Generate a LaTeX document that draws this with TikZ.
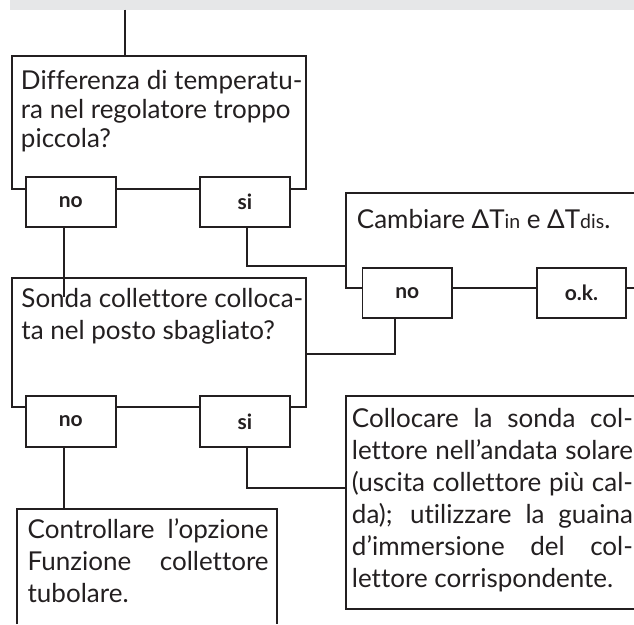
\documentclass[tikz,border=0pt]{standalone}
\usepackage{fontspec}
\setmainfont{Lato}[Ligatures=NoCommon]
\usetikzlibrary{positioning,calc}
\definecolor{ink}{HTML}{231F20}
\definecolor{band}{HTML}{E6E7E8}
\newcommand\jline[2]{\hbox to #1{#2}}
\newcommand\lowtxt[1]{{\fontsize{19.5}{20}\selectfont #1}}

\begin{document}
\begin{tikzpicture}[x=1pt, y=-1pt, color=ink, line width=1.9pt,
        qbox/.style={rectangle, draw, inner sep=0pt, outer sep=0pt, anchor=north west},
        lbl/.style={rectangle, draw, fill=white, inner sep=0pt, outer sep=0pt,
                    minimum width=89.7pt, minimum height=50.5pt,
                    font=\fontsize{21}{24}\selectfont\bfseries},
        txt/.style={anchor=north west, inner sep=0pt, align=left,
                    font=\fontsize{26}{32}\selectfont}
      ]
      \useasboundingbox (0,0) rectangle (634,624);
      \fill[band] (10,0) rectangle (634,9.5);

      % fixed points
      \coordinate (feed) at (125,9.5);
      \coordinate (stemL) at (64.3,0);
      \coordinate (stemR) at (247,0);
      \coordinate (stemM) at (395,0);
      \coordinate (cambioNE) at (634,192.7);
      \coordinate (cambioNW) at (345.7,192.7);
      \coordinate (cambioSW) at (345.7,288.3);
      \coordinate (cambioSE) at (634,288.3);
      \coordinate (collocNE) at (634,395.7);
      \coordinate (collocNW) at (345.7,395.7);
      \coordinate (collocSW) at (345.7,609.3);
      \coordinate (collocSE) at (634,609.3);
      \coordinate (ctrlSW) at (16.7,624);
      \coordinate (ctrlNW) at (16.7,509);
      \coordinate (ctrlNE) at (277.3,509);
      \coordinate (ctrlSE) at (277.3,624);

      % question boxes
      \node[qbox, minimum width=294pt, minimum height=133pt] (diff) at (11.7,56) {};
      \node[qbox, minimum width=294pt, minimum height=128.7pt] (sonda) at (11.7,278.3) {};
      \draw (cambioNE) -- (cambioNW) -- (cambioSW) -- (cambioSE);
      \draw (collocNE) -- (collocNW) -- (collocSW) -- (collocSE);
      \draw (ctrlSW) -- (ctrlNW) -- (ctrlNE) -- (ctrlSE);

      % texts
      \node[txt, font=\fontsize{26}{29}\selectfont] (difftxt) at (20,68.7)
        {\strut Differenza di temperatu-\\ra nel regolatore troppo\\piccola?};
      \node[txt] (sondatxt) at (20.5,284.3)
        {\strut Sonda collettore colloca-\\ta nel posto sbagliato?};
      \node[anchor=base west, inner sep=0pt, font=\fontsize{26}{32}\selectfont] (cambiotxt)
        at (356,228.3) {Cambiare ΔT\lowtxt{in} e ΔT\lowtxt{dis}.};
      \node[txt] (ctrltxt) at (26.7,515.6)
        {\strut\jline{241pt}{Controllare l’opzione}\\
         \jline{241pt}{Funzione collettore}\\tubolare.};
      \node[txt] (colloctxt) at (351,404.6)
        {\strut\jline{281pt}{Collocare la sonda col-}\\
         \jline{281pt}{lettore nell’andata solare}\\
         \jline{281pt}{(uscita collettore più cal-}\\
         \jline{281pt}{da); utilizzare la guaina}\\
         \jline{281pt}{d’immersione del col-}\\
         lettore corrispondente.};

      % connectors
      \draw (feed) -- (feed |- diff.north);
      \draw (stemL |- 0,227) -- ($(sonda.north -| stemL)+(0,19)$);
      \draw (stemR |- 0,227) |- ($(cambioNW)+(0,73)$);
      \draw (stemM |- 0,318) |- ($(sonda.north east)+(0,76)$);
      \draw (stemL |- 0,446) -- (stemL |- ctrlNW);
      \draw (stemR |- 0,447) |- ($(collocNW)+(0,92)$);

      % answer boxes
      \node[lbl] (diffno) at (70.85,202) {no};
      \node[lbl, right=84.3pt of diffno] (diffsi) {si};
      \node[lbl] (sondano) at (70.85,421.5) {no};
      \node[lbl, right=84.3pt of sondano] (sondasi) {si};
      \node[lbl] (cambiono) at (407.3,293) {no};
      \node[lbl, right=84.4pt of cambiono] (ok) {o.k.};
    \end{tikzpicture}
\end{document}
